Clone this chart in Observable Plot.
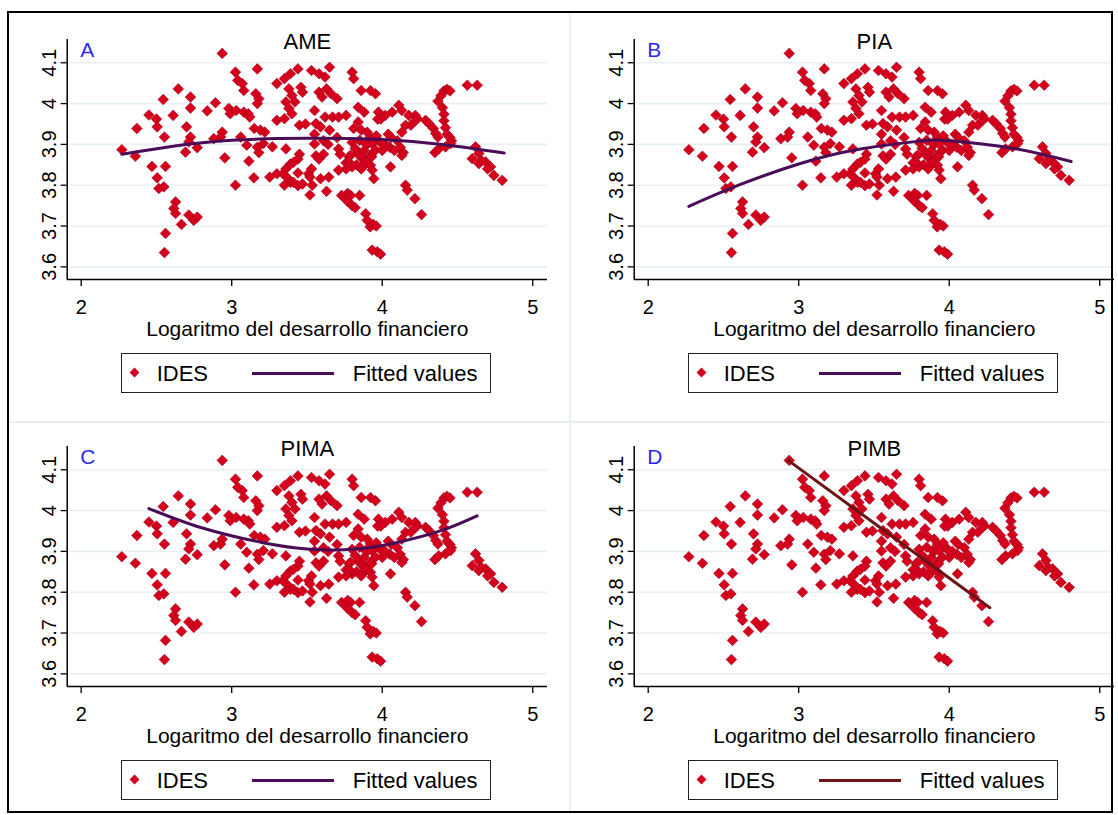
<!DOCTYPE html>
<html>
<head>
<meta charset="utf-8">
<script src="https://cdn.jsdelivr.net/npm/d3@7"></script>
<script src="https://cdn.jsdelivr.net/npm/@observablehq/plot@0.6"></script>
<style>
  html, body { margin: 0; padding: 0; background: #fff; }
  body { font-family: "Liberation Sans", Arial, sans-serif; }
  #page { position: relative; width: 1118px; height: 815px; overflow: hidden; background: #fff; }
  .outer { position: absolute; left: 7px; top: 11px; width: 1106px; height: 802px; border: 2px solid #000; box-sizing: border-box; }
  .sep { position: absolute; background: #e9eff1; }
  .panel { position: absolute; width: 567px; height: 407px; }
  .panel svg { position: absolute; left: 0; top: 0; overflow: visible; }
  .legend { position: absolute; box-sizing: border-box; border: 1.5px solid #222; background: #fff; }
  .legend .lbl { position: absolute; font-size: 22px; line-height: 1; color: #000; white-space: nowrap; }
  .legend .sample { position: absolute; height: 3px; }
  .legend .dia { position: absolute; width: 7px; height: 7px; transform: rotate(45deg); background: #d5001c; }
</style>
</head>
<body>
<div id="page"></div>
<script>
// ---------------- data ----------------
const panelLetters = ["A", "B", "C", "D"];
const panelTitles = ["AME", "PIA", "PIMA", "PIMB"];
const xTicks = [2, 3, 4, 5];
const xTickLabels = ["2", "3", "4", "5"];
const yTicks = [3.6, 3.7, 3.8, 3.9, 4.0, 4.1];
const yTickLabels = ["3.6", "3.7", "3.8", "3.9", "4", "4.1"];
const xTitle = "Logaritmo del desarrollo financiero";
const legendLabels = ["IDES", "Fitted values"];

// IDES (log of financial development, IDES) – same scatter in all four panels
const ides = [
  [2.27,3.887],[2.36,3.871],[2.37,3.939],[2.45,3.972],[2.47,3.846],[2.50,3.962],[2.505,3.943],[2.545,4.010],
  [2.553,3.918],[2.56,3.846],[2.505,3.818],[2.516,3.792],[2.549,3.796],[2.56,3.682],[2.553,3.635],[2.611,3.971],
  [2.645,4.036],[2.627,3.759],[2.615,3.743],[2.627,3.731],[2.666,3.704],[2.70,3.943],[2.693,3.881],[2.726,4.016],
  [2.726,3.989],[2.726,3.918],[2.715,3.906],[2.715,3.727],[2.748,3.714],[2.771,3.722],[2.771,3.892],[2.837,3.982],
  [2.892,4.002],[2.881,3.914],[2.937,4.123],[2.937,3.930],[2.926,3.918],[2.954,3.867],[2.981,3.988],[2.99,3.975],
  [3.025,4.077],[3.04,4.057],[3.07,4.049],[3.08,4.032],[3.17,4.085],[3.16,4.024],[3.18,4.012],[3.17,4.0],
  [3.03,3.983],[3.08,3.979],[3.11,3.975],[3.12,3.967],[3.15,3.939],[3.19,3.935],[3.22,3.93],[3.06,3.918],
  [3.10,3.898],[3.21,3.902],[3.27,3.894],[3.30,4.049],[3.35,4.061],[3.39,4.073],[3.44,4.085],[3.38,4.036],
  [3.40,4.02],[3.42,4.004],[3.46,4.04],[3.47,4.028],[3.36,4.004],[3.38,3.988],[3.40,3.975],[3.30,3.959],
  [3.35,3.963],[3.45,3.947],[3.53,4.081],[3.58,4.073],[3.55,3.983],[3.58,4.028],[3.60,4.016],[3.63,4.036],
  [3.66,4.024],[3.62,4.065],[3.65,4.089],[3.62,3.967],[3.67,3.967],[3.71,3.967],[3.76,3.971],[3.70,4.012],
  [3.65,3.935],[3.56,3.951],[3.59,3.943],[3.80,4.077],[3.81,4.061],[3.86,4.032],[3.84,3.991],[3.88,3.979],
  [3.81,3.939],[3.86,3.935],[3.90,3.93],
  [3.17,3.893],[3.18,3.88],[3.36,3.889],[3.45,3.876],[3.44,3.864],[3.55,3.901],[3.55,3.925],[3.56,3.872],
  [3.58,3.864],[3.61,3.876],[3.61,3.909],[3.64,3.90],[3.70,3.917],[3.71,3.889],[3.72,3.876],[3.49,3.95],[3.84,3.955],
  [3.30,3.828],[3.34,3.828],[3.36,3.84],[3.39,3.852],[3.41,3.856],[3.39,3.807],[3.41,3.807],[3.44,3.799],
  [3.47,3.803],[3.37,3.818],[3.44,3.83],[3.51,3.828],[3.53,3.84],
  [3.80,3.905],[3.82,3.89],[3.84,3.877],[3.86,3.868],[3.88,3.885],[3.90,3.90],[3.85,3.91],[3.89,3.86],
  [3.78,3.87],[3.76,3.855],[3.80,3.845],[3.83,3.85],[3.87,3.845],[3.76,3.84],[3.78,3.856],[3.79,3.873],
  [3.922,3.918],[3.889,3.902],[3.933,3.902],[3.955,3.886],[3.922,3.873],[3.889,3.857],[3.922,3.849],[3.933,3.837],
  [3.944,3.816],[3.86,3.84],[3.93,3.87],
  [3.922,4.032],[3.955,4.024],[3.975,3.979],[4.02,3.971],[4.066,3.979],[4.11,3.996],[4.13,3.983],[4.177,3.971],
  [4.22,3.971],[4.233,3.963],[4.155,3.947],[4.19,3.947],[4.13,3.93],[4.22,3.958],[4.288,3.959],[4.31,3.951],
  [4.34,3.939],[4.355,3.927],[4.37,3.918],[4.37,4.006],[4.39,4.019],[4.41,4.031],[4.43,4.035],[4.45,4.031],
  [4.40,3.99],[4.41,3.974],[4.41,3.958],[4.42,3.941],[4.43,3.925],[4.45,3.917],[4.46,3.909],[4.04,3.925],
  [4.06,3.917],[4.05,3.893],[4.08,3.885],[4.02,3.90],[4.10,3.909],[4.12,3.893],[4.14,3.88],[4.00,3.885],
  [3.98,3.909],[3.96,3.921],[4.00,3.90],[3.97,3.962],[3.99,3.962],[4.055,3.845],[4.13,3.873],[4.35,3.88],
  [4.375,3.889],[4.42,3.894],[4.454,3.902],[4.565,4.045],[4.631,4.045],[4.62,3.894],[4.642,3.878],[4.598,3.865],
  [4.642,3.853],[4.687,3.857],[4.72,3.845],[4.742,3.824],[4.797,3.812],[4.66,3.86],[4.70,3.84],
  [4.155,3.80],[4.166,3.788],[4.217,3.767],[4.261,3.728],[3.89,3.73],[3.90,3.714],[3.92,3.698],[3.94,3.704],
  [3.96,3.70],[3.933,3.641],[3.967,3.637],[3.989,3.631],[3.114,3.859],[3.147,3.818],[3.025,3.80],[3.253,3.82],
  [3.35,3.80],[3.52,3.82],[3.535,3.80],[3.52,3.776],[3.59,3.816],[3.645,3.82],[3.63,3.785],[3.71,3.837],
  [3.73,3.775],[3.75,3.77],[3.77,3.78],[3.79,3.775],[3.77,3.76],[3.80,3.75],[3.82,3.745],[3.85,3.775]
];

// Fitted values
const fitAME  = [[2.27,3.876],[2.6,3.895],[3.0,3.910],[3.5,3.915],[4.0,3.912],[4.4,3.900],[4.81,3.879]];
const fitPIA  = [[2.27,3.748],[2.6,3.800],[3.0,3.852],[3.4,3.888],[3.8,3.908],[4.0,3.909],[4.4,3.892],[4.81,3.858]];
const fitPIMA = [[2.45,4.005],[2.8,3.958],[3.2,3.922],[3.5,3.906],[3.8,3.905],[4.1,3.922],[4.4,3.952],[4.63,3.987]];
const fitPIMB = [[2.93,4.123],[4.27,3.762]];
const fits = [fitAME, fitPIA, fitPIMA, fitPIMB];

// ---------------- layout / style ----------------
const fitColors = ["#4b0c57", "#4b0c57", "#4b0c57", "#6c1416"];
const panelOrigins = [[2, 14], [569, 14], [2, 421], [569, 421]];
const PW = 567;
const M = {left: 64.7, right: 22, top: 25, bottom: 70};
const SVG_H = 335;
const xDomain = [1.907, 5.098];
const yDomain = [3.569, 4.157];
const FONT = "'Liberation Sans', Arial, sans-serif";

const page = document.getElementById("page");

// faint separators between the sub-graphs
[[569, 14, 2, 800], [8, 421, 1104, 2]].forEach(([l, t, w, h]) => {
  const s = document.createElement("div");
  s.className = "sep";
  Object.assign(s.style, {left: l + "px", top: t + "px", width: w + "px", height: h + "px"});
  page.appendChild(s);
});

panelTitles.forEach((title, i) => {
  const [left, top] = panelOrigins[i];
  const panel = document.createElement("div");
  panel.className = "panel";
  panel.style.left = left + "px";
  panel.style.top = top + "px";

  const chart = Plot.plot({
    width: PW,
    height: SVG_H,
    marginLeft: M.left, marginRight: M.right, marginTop: M.top, marginBottom: M.bottom,
    x: {domain: xDomain, axis: null},
    y: {domain: yDomain, axis: null},
    style: {background: "transparent", fontFamily: FONT, overflow: "visible", color: "#000"},
    marks: [
      Plot.ruleY(yTicks, {stroke: "#e8f0f2", strokeWidth: 1.6, x1: xDomain[0], x2: xDomain[1], insetLeft: 3}),
      Plot.axisX({ticks: xTicks, tickSize: 7, tickFormat: () => "", stroke: "#000", strokeWidth: 1.3}),
      Plot.axisY({ticks: yTicks, tickSize: 6, tickFormat: () => "", stroke: "#000", strokeWidth: 1.3}),
      Plot.ruleX([xDomain[0]], {y1: yDomain[0], y2: yDomain[1], stroke: "#000", strokeWidth: 1.5}),
      Plot.ruleY([yDomain[0]], {x1: xDomain[0], x2: xDomain[1], stroke: "#000", strokeWidth: 1.5}),
      Plot.text(yTicks, {x: xDomain[0], y: d => d, text: (d, j) => yTickLabels[j], rotate: -90,
        dx: -18, fontSize: 20, textAnchor: "middle", lineAnchor: "middle", fill: "#000"}),
      Plot.text(xTicks, {x: d => d, y: yDomain[0], text: (d, j) => xTickLabels[j],
        dy: 28, fontSize: 20, textAnchor: "middle", lineAnchor: "middle", fill: "#000"}),
      Plot.text([xTitle], {frameAnchor: "bottom", dy: 49.5, fontSize: 21, textAnchor: "middle",
        lineAnchor: "middle", fill: "#000"}),
      Plot.text([title], {frameAnchor: "top", dy: 2.5, fontSize: 22, textAnchor: "middle",
        lineAnchor: "middle", fill: "#000"}),
      Plot.text([panelLetters[i]], {frameAnchor: "top-left", dx: 13, dy: 10.5, fontSize: 21,
        textAnchor: "start", lineAnchor: "middle", fill: "#2b2bf0"}),
      Plot.dot(ides, {x: d => d[0], y: d => d[1], symbol: "diamond2", r: 4.8,
        fill: "#d5001c", stroke: "#a3001b", strokeWidth: 0.6}),
      Plot.line(fits[i], {x: d => d[0], y: d => d[1], curve: "natural",
        stroke: fitColors[i], strokeWidth: 3})
    ]
  });
  panel.appendChild(chart);

  // legend
  const lg = document.createElement("div");
  lg.className = "legend";
  Object.assign(lg.style, {left: "118.7px", top: "339px", width: "370.5px", height: "40px"});
  const dia = document.createElement("div");
  dia.className = "dia";
  Object.assign(dia.style, {left: "9px", top: "14.5px"});
  lg.appendChild(dia);
  const l1 = document.createElement("div");
  l1.className = "lbl";
  l1.textContent = legendLabels[0];
  Object.assign(l1.style, {left: "35px", top: "9px"});
  lg.appendChild(l1);
  const sm = document.createElement("div");
  sm.className = "sample";
  Object.assign(sm.style, {left: "130px", top: "17.5px", width: "82px", background: fitColors[i]});
  lg.appendChild(sm);
  const l2 = document.createElement("div");
  l2.className = "lbl";
  l2.textContent = legendLabels[1];
  Object.assign(l2.style, {left: "231px", top: "9px"});
  lg.appendChild(l2);
  panel.appendChild(lg);

  page.appendChild(panel);
});

const outer = document.createElement("div");
outer.className = "outer";
page.appendChild(outer);
</script>
</body>
</html>
